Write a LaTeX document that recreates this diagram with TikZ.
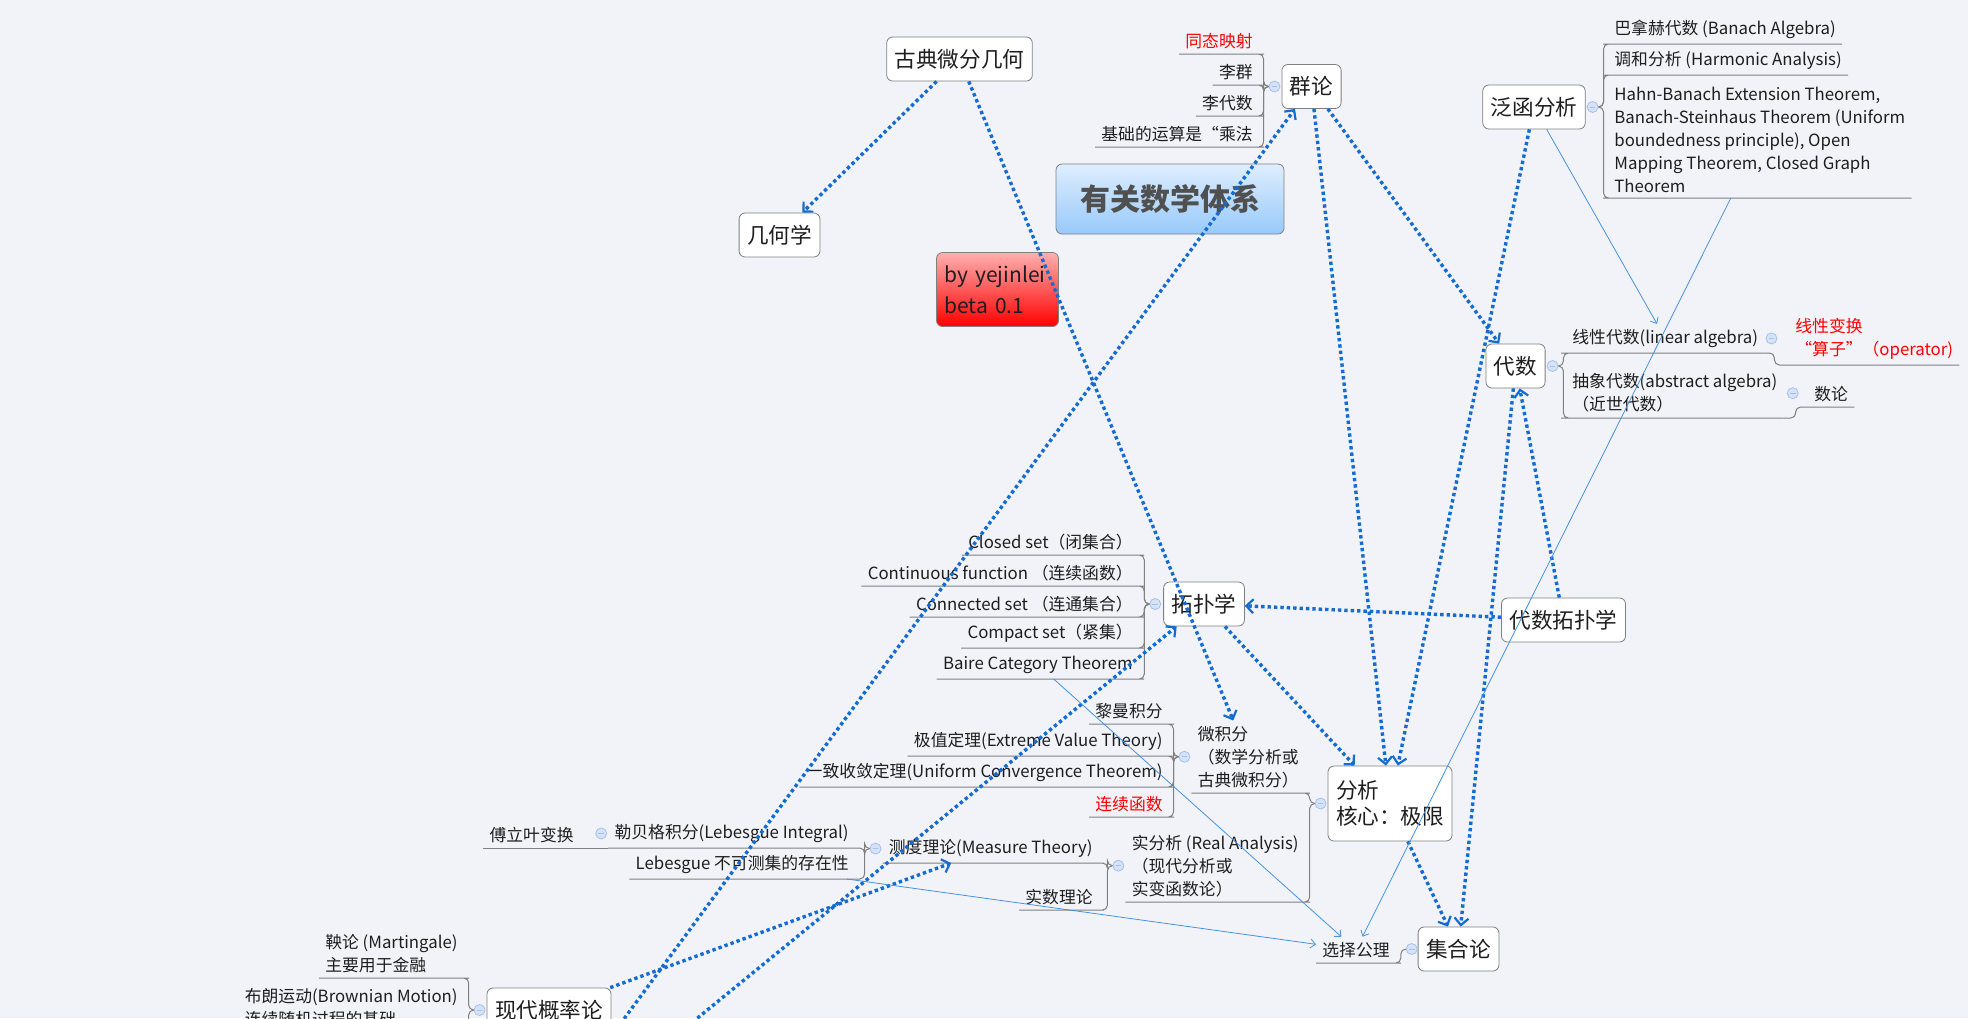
\documentclass[tikz,border=0pt]{standalone}
\usepackage{fontspec}
\setmainfont{Noto Sans CJK SC}
\usetikzlibrary{arrows.meta}

\definecolor{bgcol}{RGB}{242,243,249}
\definecolor{boxgrey}{RGB}{128,128,128}
\definecolor{linegrey}{RGB}{128,128,128}
\definecolor{linkblue}{RGB}{20,108,210}
\definecolor{thinblue}{RGB}{70,145,225}
\definecolor{folddot}{RGB}{214,226,247}
\definecolor{foldrim}{RGB}{165,192,235}
\definecolor{inkcol}{RGB}{30,30,30}
\definecolor{titleink}{RGB}{80,80,80}
\definecolor{titletop}{RGB}{222,238,254}
\definecolor{titlebot}{RGB}{152,201,251}
\definecolor{credittop}{RGB}{255,176,176}
\definecolor{creditbot}{RGB}{255,0,0}

\tikzset{
  topic/.style={draw=boxgrey, fill=white, rounded corners=3pt, inner xsep=4pt, minimum height=22pt, text=inkcol, font=\fontsize{10.8}{13}\selectfont},
  leaf/.style={inner xsep=3pt, inner ysep=2.5pt, text=inkcol, font=\fontsize{8.4}{11.5}\selectfont},
  fold/.style={circle, draw=foldrim, fill=folddot, line width=0.4pt, minimum size=5.5pt, inner sep=0pt,
    path picture={\draw[foldrim, line width=0.5pt] ([xshift=-1.4pt]path picture bounding box.center) -- ([xshift=1.4pt]path picture bounding box.center);}},
  branch/.style={draw=linegrey, line width=0.5pt, rounded corners=2.5pt},
  link/.style={draw=linkblue, line width=1.7pt, dash pattern=on 1.7pt off 1.5pt, -{Straight Barb[length=3.5pt,width=7pt,line width=1.1pt]}},
  thinlink/.style={draw=thinblue, line width=0.4pt, -{Straight Barb[length=2.5pt,width=4.5pt]}}
}

\begin{document}
\begin{tikzpicture}[x=0.5pt,y=-0.5pt]
\useasboundingbox (0,0) rectangle (1968,1018);
\fill[bgcol] (0,0) rectangle (1968,1018);
\clip (0,0) rectangle (1968,1018);

\node[topic] (geodiff) at (959.5,59) {古典微分几何};
\node[topic] (geometry) at (779.5,235) {几何学};
\node[topic] (group) at (1311.5,86.5) {群论};
\node[topic] (funcana) at (1534,107) {泛函分析};
\node[topic] (algebra) at (1515.5,366) {代数};
\node[topic] (topo) at (1204,604) {拓扑学};
\node[topic] (algtopo) at (1563.5,620) {代数拓扑学};
\node[topic, align=left, minimum height=37.5pt] (analysis) at (1390,803.5) {分析\\核心：极限};
\node[topic] (settheory) at (1458.5,949) {集合论};
\node[topic] (prob) at (549,1010) {现代概率论};

\node[draw=boxgrey, rounded corners=3pt, top color=titletop, bottom color=titlebot, minimum width=114pt, minimum height=35pt, text=titleink, font=\fontsize{15}{18}\selectfont\bfseries] (title) at (1170,199) {有关数学体系};
\node[draw=boxgrey, rounded corners=3pt, top color=credittop, bottom color=creditbot, minimum width=61pt, minimum height=37pt, text width=53pt, align=left, text=inkcol, font=\fontsize{10.5}{15.5}\selectfont] (credit) at (997.5,289.5) {by yejinlei\\beta 0.1};

\node[leaf, anchor=south east, text=red] (homo) at (1259,54) {同态映射};
\node[leaf, anchor=south east] (liegroup) at (1259,85) {李群};
\node[leaf, anchor=south east] (liealg) at (1259,116) {李代数};
\node[leaf, anchor=south east] (mult) at (1259,147) {基础的运算是“乘法};

\node[leaf, anchor=south west] (banach) at (1608,44) {巴拿赫代数 (Banach Algebra)};
\node[leaf, anchor=south west] (harmonic) at (1608,75) {调和分析 (Harmonic Analysis)};
\node[leaf, anchor=south west, align=left] (hahn) at (1608,198) {Hahn-Banach Extension Theorem,\\Banach-Steinhaus Theorem (Uniform\\boundedness principle), Open\\Mapping Theorem, Closed Graph\\Theorem};

\node[leaf, anchor=south west] (linalg) at (1566,353) {线性代数(linear algebra)};
\node[leaf, anchor=south west, align=left] (absalg) at (1566,418) {抽象代数(abstract algebra)\\（近世代数）};
\node[leaf, anchor=south west, align=left, text=red] (linop) at (1789,365) {线性变换\\ “算子”（operator)};
\node[leaf, anchor=south west] (numth) at (1808,407) {数论};

\node[leaf, anchor=south east] (closed) at (1139,555) {Closed set（闭集合）};
\node[leaf, anchor=south east] (continuous) at (1139,586) {Continuous function （连续函数）};
\node[leaf, anchor=south east] (connected) at (1139,617) {Connected set （连通集合）};
\node[leaf, anchor=south east] (compact) at (1139,648) {Compact set（紧集）};
\node[leaf, anchor=south east] (baire) at (1139,679) {Baire Category Theorem};

\node[leaf, anchor=south east, align=left] (calculus) at (1305,793) {微积分\\（数学分析或\\古典微积分）};
\node[leaf, anchor=south east, align=left] (realana) at (1305,902) {实分析 (Real Analysis)\\（现代分析或\\实变函数论）};

\node[leaf, anchor=south east] (riemann) at (1169,724) {黎曼积分};
\node[leaf, anchor=south east] (extreme) at (1169,756) {极值定理(Extreme Value Theory)};
\node[leaf, anchor=south east] (uniform) at (1169,787) {一致收敛定理(Uniform Convergence Theorem)};
\node[leaf, anchor=south east, text=red] (contfun) at (1169,817) {连续函数};

\node[leaf, anchor=south east] (measure) at (1099,863) {测度理论(Measure Theory)};
\node[leaf, anchor=south east] (realnum) at (1099,910) {实数理论};

\node[leaf, anchor=south east] (lebint) at (855,848) {勒贝格积分(Lebesgue Integral)};
\node[leaf, anchor=south east] (nonmeas) at (855,879) {Lebesgue 不可测集的存在性};
\node[leaf, anchor=south east] (fourier) at (580,848) {傅立叶变换};

\node[leaf, anchor=south east] (choice) at (1396,963) {选择公理};

\node[leaf, anchor=south east, align=left] (martingale) at (464,978) {鞅论 (Martingale)\\主要用于金融};
\node[leaf, anchor=south east, align=left] (brownian) at (464,1032) {布朗运动(Brownian Motion)\\连续随机过程的基础};

\node[fold] (group-fold) at ([xshift=-3.5pt]group.west) {};
\node[fold] (funcana-fold) at ([xshift=3.5pt]funcana.east) {};
\node[fold] (algebra-fold) at ([xshift=3.5pt]algebra.east) {};
\node[fold] (topo-fold) at ([xshift=-4pt]topo.west) {};
\node[fold] (analysis-fold) at ([xshift=-3.5pt]analysis.west) {};
\node[fold] (settheory-fold) at ([xshift=-3pt]settheory.west) {};
\node[fold] (prob-fold) at ([xshift=-3.5pt]prob.west) {};
\node[fold] (linalg-fold) at ([xshift=3.5pt]linalg.east) {};
\node[fold] (absalg-fold) at ([xshift=4.5pt]absalg.east) {};
\node[fold] (calculus-fold) at ([xshift=-3.5pt]calculus.west) {};
\node[fold] (realana-fold) at ([xshift=-3.5pt]realana.west) {};
\node[fold] (measure-fold) at ([xshift=-3.5pt]measure.west) {};
\node[fold] (lebint-fold) at ([xshift=-3.5pt]lebint.west) {};

\draw[branch] (group-fold.west) -- ++(-5,0) |- (homo.south east) -- (homo.south west);
\draw[branch] (group-fold.west) -- ++(-5,0) |- (liegroup.south east) -- (liegroup.south west);
\draw[branch] (group-fold.west) -- ++(-5,0) |- (liealg.south east) -- (liealg.south west);
\draw[branch] (group-fold.west) -- ++(-5,0) |- (mult.south east) -- (mult.south west);

\draw[branch] (funcana-fold.east) -- ++(5,0) |- (banach.south west) -- (banach.south east);
\draw[branch] (funcana-fold.east) -- ++(5,0) |- (harmonic.south west) -- (harmonic.south east);
\draw[branch] (funcana-fold.east) -- ++(5,0) |- (hahn.south west) -- (hahn.south east);

\draw[branch] (algebra-fold.east) -- ++(5,0) |- (linalg.south west) -- (linalg.south east);
\draw[branch] (algebra-fold.east) -- ++(5,0) |- (absalg.south west) -- (absalg.south east);
\draw[branch] (linalg.south east) -- ++(10,0) |- (linop.south west) -- (linop.south east);
\draw[branch] (absalg.south east) -- ++(12,0) |- (numth.south west) -- (numth.south east);

\draw[branch] (topo-fold.west) -- ++(-5,0) |- (closed.south east) -- (closed.south west);
\draw[branch] (topo-fold.west) -- ++(-5,0) |- (continuous.south east) -- (continuous.south west);
\draw[branch] (topo-fold.west) -- ++(-5,0) |- (connected.south east) -- (connected.south west);
\draw[branch] (topo-fold.west) -- ++(-5,0) |- (compact.south east) -- (compact.south west);
\draw[branch] (topo-fold.west) -- ++(-5,0) |- (baire.south east) -- (baire.south west);

\draw[branch] (analysis-fold.west) -- ++(-5,0) |- (calculus.south east) -- (calculus.south west);
\draw[branch] (analysis-fold.west) -- ++(-5,0) |- (realana.south east) -- (realana.south west);

\draw[branch] (calculus-fold.west) -- ++(-5,0) |- (riemann.south east) -- (riemann.south west);
\draw[branch] (calculus-fold.west) -- ++(-5,0) |- (extreme.south east) -- (extreme.south west);
\draw[branch] (calculus-fold.west) -- ++(-5,0) |- (uniform.south east) -- (uniform.south west);
\draw[branch] (calculus-fold.west) -- ++(-5,0) |- (contfun.south east) -- (contfun.south west);

\draw[branch] (realana-fold.west) -- ++(-5,0) |- (measure.south east) -- (measure.south west);
\draw[branch] (realana-fold.west) -- ++(-5,0) |- (realnum.south east) -- (realnum.south west);

\draw[branch] (measure-fold.west) -- ++(-5,0) |- (lebint.south east) -- (lebint.south west);
\draw[branch] (measure-fold.west) -- ++(-5,0) |- (nonmeas.south east) -- (nonmeas.south west);
\draw[branch] (lebint.south west) -- (fourier.south east) -- (fourier.south west);

\draw[branch] (settheory-fold.west) -- ++(-5,0) |- (choice.south east) -- (choice.south west);

\draw[branch] (prob-fold.west) -- ++(-5,0) |- (martingale.south east) -- (martingale.south west);
\draw[branch] (prob-fold.west) -- ++(-5,0) |- (brownian.south east) -- (brownian.south west);

\coordinate (offdown) at (514,1168);
\draw[link] (geodiff) -- (geometry);
\draw[link] (geodiff) -- (calculus);
\draw[link] (group) -- (analysis);
\draw[link] (group) -- (algebra);
\draw[link] (funcana) -- (analysis);
\draw[link] (topo) -- (analysis);
\draw[link] (algtopo) -- (topo);
\draw[link] (algtopo) -- (algebra);
\draw[link] (algebra) -- (settheory);
\draw[link] (analysis) -- (settheory);
\draw[link] (prob) -- (measure);
\draw[link] (offdown) -- (group);
\draw[link] (offdown) -- (topo);

\draw[thinlink] (funcana) -- (linalg);
\draw[thinlink] (hahn) -- (choice);
\draw[thinlink] (baire) -- (choice);
\draw[thinlink] (nonmeas) -- (choice);
\end{tikzpicture}
\end{document}
